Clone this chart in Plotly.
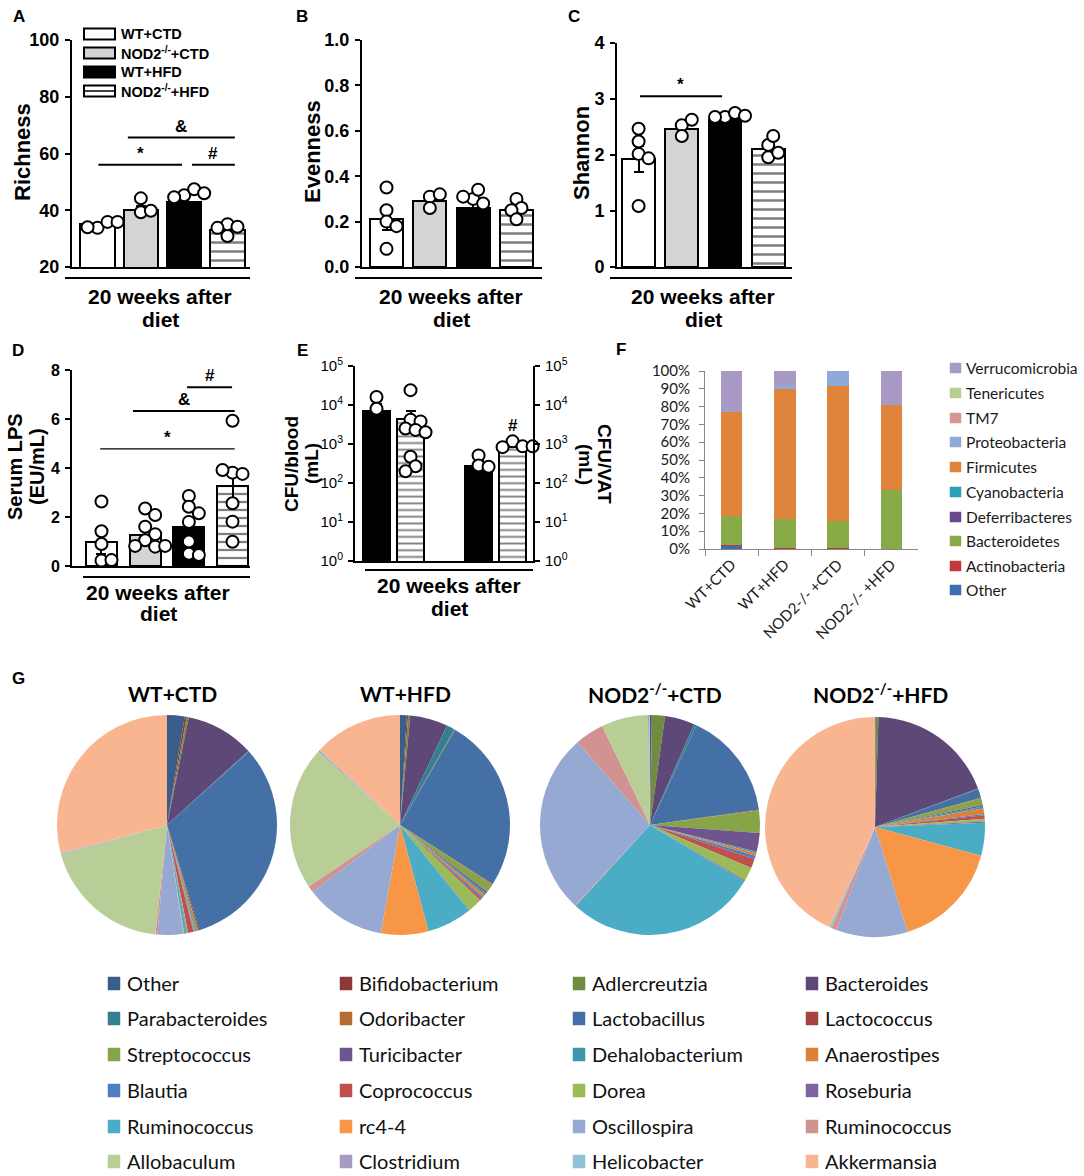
import numpy as np
import plotly.graph_objects as go

W, H = 1084, 1176
ARIAL = "Liberation Sans"
CAL = "Lato"

# ---------------- data ----------------
groups = ["WT+CTD", "NOD2-/-+CTD", "WT+HFD", "NOD2-/-+HFD"]
group_styles = ["white", "gray", "black", "stripe"]

richness_mean = [35.0, 40.0, 43.0, 33.0]
richness_sem = [0.6, 1.5, 0.7, 0.9]
richness_pts = [[33.8, 35.9, 34.0, 35.9], [39.3, 44.2, 39.8],
                [45.3, 47.4, 44.6, 46.0], [30.9, 35.1, 34.2, 33.8]]

evenness_mean = [0.21, 0.29, 0.26, 0.25]
evenness_sem = [0.045, 0.02, 0.025, 0.02]
evenness_pts = [[0.35, 0.25, 0.20, 0.18, 0.08], [0.31, 0.32, 0.26],
                [0.30, 0.34, 0.31, 0.28], [0.30, 0.26, 0.25, 0.21]]

shannon_mean = [1.93, 2.47, 2.63, 2.10]
shannon_sem = [0.23, 0.08, 0.03, 0.08]
shannon_pts = [[2.47, 2.24, 2.02, 1.94, 1.09], [2.53, 2.63, 2.34],
               [2.68, 2.75, 2.68, 2.70], [1.96, 2.18, 2.34, 2.04]]

lps_mean = [0.97, 1.27, 1.60, 3.25]
lps_sem = [0.48, 0.23, 0.30, 0.60]
lps_pts = [[2.63, 1.42, 0.90, 0.22, 0.24],
           [2.35, 2.08, 1.60, 1.30, 1.05, 0.79, 0.82, 0.82],
           [2.86, 2.42, 2.15, 1.80, 1.00, 0.50, 0.45],
           [5.93, 3.81, 3.76, 3.92, 2.56, 1.81, 0.99]]

cfu_groups = ["WT+HFD", "NOD2-/-+HFD"]
cfu_blood_mean = [7000, 4500]
cfu_blood_sem = [3700, 2700]
cfu_blood_pts = [[16000, 8000],
                 [24000, 4200, 3800, 2500, 2300, 2000, 470, 270, 200]]
cfu_vat_mean = [280, 840]
cfu_vat_sem = [110, 100]
cfu_vat_pts = [[510, 280, 260], [1170, 870, 830, 870]]

phyla = ["Other", "Actinobacteria", "Bacteroidetes", "Deferribacteres", "Cyanobacteria",
         "Firmicutes", "Proteobacteria", "TM7", "Tenericutes", "Verrucomicrobia"]
phyla_colors = ["#3d6db1", "#c0393b", "#88ab47", "#67488f", "#2f9fb8",
                "#e0843c", "#8faad8", "#d99594", "#b5d090", "#a89ac4"]
phyla_groups = ["WT+CTD", "WT+HFD", "NOD2-/- +CTD", "NOD2-/- +HFD"]
phyla_pct = {
    "Other":           [2.0, 0.3, 0.3, 0.0],
    "Actinobacteria":  [0.3, 0.5, 0.5, 0.2],
    "Bacteroidetes":   [16.5, 16.0, 15.0, 33.0],
    "Deferribacteres": [0.0, 0.0, 0.0, 0.0],
    "Cyanobacteria":   [0.0, 0.0, 0.0, 0.0],
    "Firmicutes":      [58.5, 73.0, 75.5, 47.8],
    "Proteobacteria":  [0.2, 2.6, 8.7, 0.0],
    "TM7":             [0.0, 0.0, 0.0, 0.0],
    "Tenericutes":     [0.0, 0.0, 0.0, 0.0],
    "Verrucomicrobia": [22.5, 7.6, 0.0, 19.0],
}

genera = ["Other", "Bifidobacterium", "Adlercreutzia", "Bacteroides",
          "Parabacteroides", "Odoribacter", "Lactobacillus", "Lactococcus",
          "Streptococcus", "Turicibacter", "Dehalobacterium", "Anaerostipes",
          "Blautia", "Coprococcus", "Dorea", "Roseburia",
          "Ruminococcus", "rc4-4", "Oscillospira", "Ruminococcus",
          "Allobaculum", "Clostridium", "Helicobacter", "Akkermansia"]
genera_colors = ["#3a5e8c", "#8c3836", "#718c3e", "#5d4878",
                 "#357f93", "#b56c2f", "#4470a5", "#a64340",
                 "#87a548", "#6f5590", "#3e97ad", "#dd8138",
                 "#4d7fc0", "#c0504d", "#9bbb59", "#8064a2",
                 "#4bacc6", "#f79646", "#95a9d2", "#d09392",
                 "#b9cd96", "#a89bc0", "#92c3d4", "#f8b58f"]
pie_titles = ["WT+CTD", "WT+HFD", "NOD2<sup>-/-</sup>+CTD", "NOD2<sup>-/-</sup>+HFD"]
pie_values = [
    [2.6, 0.3, 0.3, 10.2, 0.1, 0.0, 32.2, 0.2, 0.3, 0.1, 0.1, 0.1,
     0.1, 0.8, 0.1, 0.1, 0.4, 0.1, 3.8, 0.3, 19.2, 0.1, 0.1, 29.4],
    [1.0, 0.2, 0.3, 5.6, 1.2, 0.1, 25.9, 0.1, 1.3, 0.3, 0.3, 0.4,
     0.3, 0.3, 2.1, 0.1, 6.7, 7.0, 11.9, 1.0, 21.3, 0.2, 0.1, 13.1],
    [0.2, 0.1, 1.9, 4.4, 0.4, 0.0, 15.9, 0.1, 3.3, 2.8, 0.2, 0.4,
     0.5, 1.4, 2.0, 0.2, 28.4, 0.1, 26.8, 4.3, 6.9, 0.2, 0.1, 0.0],
    [0.1, 0.0, 0.4, 18.8, 0.1, 0.0, 1.3, 0.1, 1.0, 0.2, 0.3, 0.8,
     0.2, 0.5, 0.4, 0.2, 4.8, 16.0, 10.5, 0.8, 0.0, 0.0, 0.3, 43.2],
]

# significance bars: (x0, x1, y, label)   in data units of each panel
sig_A = [(0.02, 1.95, 56.0, "*"), (0.70, 3.17, 65.6, "&"), (2.18, 3.17, 56.0, "#")]
sig_C = [(0.03, 1.93, 3.05, "*")]
sig_D = [(1.96, 2.99, 7.30, "#"), (0.72, 3.05, 6.33, "&"), (-0.03, 3.05, 4.78, "*")]

# ---------------- helpers ----------------
def X(px):
    return px / W

def Y(py):
    return 1 - py / H

fig = go.Figure()
shapes = []
annotations = []

def ann(text, x, y, size, bold=True, family=ARIAL, angle=0, xanchor="center",
        color="black"):
    annotations.append(dict(text=text, x=X(x), y=Y(y), xref="paper", yref="paper",
                            showarrow=False, textangle=angle, xanchor=xanchor,
                            yanchor="middle",
                            font=dict(family=family, size=size, color=color,
                                      weight="bold" if bold else "normal")))

def hline_px(x0, x1, y, width=2, color="black"):
    shapes.append(dict(type="line", xref="paper", yref="paper", x0=X(x0), x1=X(x1),
                       y0=Y(y), y1=Y(y), line=dict(color=color, width=width)))

def swarm(vals, ypp, xpp, log=False, r=6.5):
    placed, offs = [], []
    for v in vals:
        yy = (np.log10(v) if log else v) * ypp
        xx = 0.0
        for k in [0, 1, -1, 2, -2, 3, -3, 4, -4]:
            xx = k * 5.0
            if all((xx - a) ** 2 + (yy - b) ** 2 >= (1.45 * r) ** 2 for a, b in placed):
                break
        placed.append((xx, yy))
        offs.append(xx / xpp)
    return offs

def add_bar(xpos, mean, sem, style, width, xa, ya, log=False, stripe=9):
    fill = {"white": "white", "gray": "#d4d4d4", "black": "black", "stripe": "white"}[style]
    marker = dict(color=fill, line=dict(color="black", width=2))
    if style == "stripe":
        marker["pattern"] = dict(shape="-", fgcolor="black", bgcolor="white",
                                 size=stripe, solidity=0.28)
    err = dict(type="data", array=[sem], color="black", thickness=2, width=5)
    if log:
        err.update(symmetric=False, arrayminus=[0])
    fig.add_trace(go.Bar(x=[xpos], y=[mean], width=width, marker=marker,
                         error_y=err, xaxis=xa, yaxis=ya, showlegend=False))

def add_pts(xpos, pts, xa, ya, ypp, xpp, log=False):
    offs = swarm(pts, ypp, xpp, log)
    fig.add_trace(go.Scatter(x=[xpos + o for o in offs], y=pts, mode="markers",
                             marker=dict(symbol="circle", size=12, color="white",
                                         line=dict(color="black", width=2)),
                             xaxis=xa, yaxis=ya, showlegend=False, cliponaxis=False))

def gp_yaxis(dom, rng, tickvals, size, ticktext=None, log=False, side="left",
             bold=True, **kw):
    d = dict(domain=dom, range=rng, showline=True, linecolor="black", linewidth=2,
             ticks="outside", ticklen=5, tickwidth=2, tickcolor="black",
             tickvals=tickvals, showgrid=False, zeroline=False, side=side,
             ticklabelstandoff=2, automargin=False, fixedrange=True,
             tickfont=dict(family=ARIAL, size=size, color="black",
                           weight="bold" if bold else "normal"))
    if ticktext is not None:
        d["ticktext"] = ticktext
    if log:
        d["type"] = "log"
    d.update(kw)
    return d

def gp_xaxis(dom, rng, anchor):
    return dict(domain=dom, range=rng, showline=True, linecolor="black", linewidth=2,
                ticks="", showticklabels=False, showgrid=False, zeroline=False,
                anchor=anchor, fixedrange=True, automargin=False)

layout = {}

# ---------------- panels A-D (GraphPad style) ----------------
panels = [
    ("A", 1, (72, 250), (40, 267), (-0.59, 3.52), (20, 100), [20, 40, 60, 80, 100],
     richness_mean, richness_sem, richness_pts, 0.79, 18),
    ("B", 2, (362, 542), (40, 267), (-0.566, 3.59), (0, 1.0), [0, 0.2, 0.4, 0.6, 0.8, 1.0],
     evenness_mean, evenness_sem, evenness_pts, 0.76, 18),
    ("C", 3, (617, 792), (43, 267), (-0.5, 3.55), (0, 4), [0, 1, 2, 3, 4],
     shannon_mean, shannon_sem, shannon_pts, 0.76, 18),
    ("D", 4, (72, 250), (370, 566), (-0.675, 3.4), (0, 8), [0, 2, 4, 6, 8],
     lps_mean, lps_sem, lps_pts, 0.71, 16),
]
for name, i, xp, yp, xr, yr, tv, mean, sem, pts, bw, ts in panels:
    xa, ya = f"x{i}", f"y{i}"
    xpp = (xp[1] - xp[0]) / (xr[1] - xr[0])
    ypp = (yp[1] - yp[0]) / (yr[1] - yr[0])
    ttext = [f"{v:.1f}" for v in tv] if name == "B" else [str(v) for v in tv]
    layout[f"xaxis{i}"] = gp_xaxis([X(xp[0]), X(xp[1])], list(xr), ya)
    layout[f"yaxis{i}"] = gp_yaxis([Y(yp[1]), Y(yp[0])], list(yr), tv, ts,
                                   ticktext=ttext, anchor=xa)
    for k in range(4):
        add_bar(k, mean[k], sem[k], group_styles[k], bw, xa, ya,
                stripe=9 if name != "D" else 8)
        add_pts(k, pts[k], xa, ya, ypp, xpp)

def sig(lines, i, widths=None):
    for j, (x0, x1, yv, lab) in enumerate(lines):
        w = 2 if widths is None else widths[j]
        shapes.append(dict(type="line", xref=f"x{i}", yref=f"y{i}", x0=x0, x1=x1,
                           y0=yv, y1=yv, line=dict(color="black", width=w)))
        annotations.append(dict(text=lab, x=(x0 + x1) / 2, y=yv, xref=f"x{i}",
                                yref=f"y{i}", showarrow=False, yanchor="bottom",
                                font=dict(family=ARIAL, size=17, color="black",
                                          weight="bold")))

sig(sig_A, 1)
sig(sig_C, 3)
sig(sig_D, 4, widths=[2, 2, 1.3])

# ---------------- panel E ----------------
E_x = (355, 533)
E_y = (366, 561)
E_xr = (-0.632, 4.6)
E_pos = [0, 1, 3, 4]
e_tv = [1, 10, 100, 1000, 10000, 100000]
e_tt = [f"10<sup>{k}</sup>" for k in range(6)]
layout["xaxis5"] = gp_xaxis([X(E_x[0]), X(E_x[1])], list(E_xr), "y5")
layout["yaxis5"] = gp_yaxis([Y(E_y[1]), Y(E_y[0])], [0, 5], e_tv, 15, ticktext=e_tt,
                            log=True, bold=False, anchor="x5")
layout["yaxis6"] = gp_yaxis([Y(E_y[1]), Y(E_y[0])], [0, 5], e_tv, 15, ticktext=e_tt,
                            log=True, bold=False, side="right", overlaying="y5",
                            anchor="x5")
e_xpp = (E_x[1] - E_x[0]) / (E_xr[1] - E_xr[0])
e_ypp = (E_y[1] - E_y[0]) / 5
for k in range(2):
    add_bar(E_pos[k], cfu_blood_mean[k], cfu_blood_sem[k], ["black", "stripe"][k],
            0.78, "x5", "y5", log=True, stripe=6.7)
    add_pts(E_pos[k], cfu_blood_pts[k], "x5", "y5", e_ypp, e_xpp, log=True)
for k in range(2):
    add_bar(E_pos[k + 2], cfu_vat_mean[k], cfu_vat_sem[k], ["black", "stripe"][k],
            0.78, "x5", "y6", log=True, stripe=6.7)
    add_pts(E_pos[k + 2], cfu_vat_pts[k], "x5", "y6", e_ypp, e_xpp, log=True)

# ---------------- panel F (stacked bars) ----------------
for ph, col in zip(phyla, phyla_colors):
    fig.add_trace(go.Bar(x=phyla_groups, y=phyla_pct[ph], name=ph, width=0.4,
                         marker=dict(color=col, line=dict(width=0)),
                         xaxis="x7", yaxis="y7", showlegend=False))
layout["xaxis7"] = dict(domain=[X(705), X(918)], range=[-0.5, 3.5], type="category",
                        showline=True, linecolor="#868686", linewidth=1,
                        ticks="outside", ticklen=6, tickcolor="#868686",
                        tickson="boundaries", tickangle=-45, anchor="y7",
                        showgrid=False, zeroline=False, automargin=False,
                        fixedrange=True,
                        tickfont=dict(family=CAL, size=15, color="#1a1a1a"))
layout["yaxis7"] = dict(domain=[Y(549), Y(371)], range=[0, 100], dtick=10,
                        ticksuffix="%", showline=True, linecolor="#868686",
                        linewidth=1, ticks="outside", ticklen=5,
                        tickcolor="#868686", anchor="x7", showgrid=False,
                        zeroline=False, ticklabelstandoff=6, automargin=False,
                        fixedrange=True,
                        tickfont=dict(family=CAL, size=15, color="#1a1a1a"))

f_rows = [368, 393, 418, 442, 467, 492, 517, 541, 566, 590]
for row, (ph, col) in zip(f_rows, list(zip(phyla, phyla_colors))[::-1]):
    shapes.append(dict(type="rect", xref="paper", yref="paper", x0=X(950), x1=X(961),
                       y0=Y(row + 5), y1=Y(row - 5), fillcolor=col,
                       line=dict(color=col, width=0.5)))
    ann(ph, 964, row, 15.5, bold=False, family=CAL, xanchor="left", color="#1a1a1a")

# ---------------- panel G (pies) ----------------
pie_centers = [(167, 825), (400, 825), (650, 825), (875, 827)]
R = 110
labels_id = [f"{i:02d} {g}" for i, g in enumerate(genera)]
for (cx, cy), vals, title in zip(pie_centers, pie_values, pie_titles):
    fig.add_trace(go.Pie(labels=labels_id, values=vals, sort=False,
                         direction="clockwise", rotation=0, textinfo="none",
                         marker=dict(colors=genera_colors, line=dict(width=0)),
                         domain=dict(x=[X(cx - R), X(cx + R)], y=[Y(cy + R), Y(cy - R)]),
                         showlegend=False, hovertext=genera, hoverinfo="text+percent",
                         automargin=False))
    ann(title, cx + 5, 693, 21, family=CAL)

g_cols = [108, 340, 573, 806]
g_rows = [983, 1018, 1054, 1090, 1126, 1161]
for idx, (g, col) in enumerate(zip(genera, genera_colors)):
    r, c = divmod(idx, 4)
    x0, yc = g_cols[c], g_rows[r]
    shapes.append(dict(type="rect", xref="paper", yref="paper", x0=X(x0), x1=X(x0 + 12),
                       y0=Y(yc + 7), y1=Y(yc - 6), fillcolor=col,
                       line=dict(color=col, width=0.5)))
    ann(g, x0 + 17, yc, 20, bold=False, family=CAL, xanchor="left", color="#111")

# ---------------- A legend ----------------
leg_rows = [34, 53, 72, 91]
leg_text = ["WT+CTD", "NOD2<sup>-/-</sup>+CTD", "WT+HFD", "NOD2<sup>-/-</sup>+HFD"]
for row, style, txt in zip(leg_rows, group_styles, leg_text):
    fillc = {"white": "white", "gray": "#d4d4d4", "black": "black", "stripe": "white"}[style]
    shapes.append(dict(type="rect", xref="paper", yref="paper", x0=X(84), x1=X(115),
                       y0=Y(row + 5.5), y1=Y(row - 5.5), fillcolor=fillc,
                       line=dict(color="black", width=2)))
    if style == "stripe":
        hline_px(84, 115, row, width=1.5)
    ann(txt, 119, row, 14.5, xanchor="left")

# ---------------- text / group lines ----------------
ann("A", 19, 16, 17)
ann("B", 302, 16, 17)
ann("C", 574, 16, 17)
ann("D", 18, 350, 17)
ann("E", 302, 350, 17)
ann("F", 621, 349, 17)
ann("G", 18, 678, 17)

ann("Richness", 22, 152, 22, angle=-90)
ann("Evenness", 312, 152, 22, angle=-90)
ann("Shannon", 582, 153, 22, angle=-90)
ann("Serum LPS", 15, 467, 20, angle=-90)
ann("(EU/mL)", 37, 467, 20, angle=-90)
ann("CFU/blood", 291, 464, 19, angle=-90)
ann("(mL)", 311, 464, 19, angle=-90)
ann("CFU/VAT", 605, 464, 19, angle=90)
ann("(mL)", 586, 464, 19, angle=90)
ann("#", 513, 425, 17)

for (x0, x1, y, cx) in [(65, 250, 278, 160), (355, 542, 278, 451), (610, 792, 278, 703)]:
    hline_px(x0, x1, y)
    ann("20 weeks after", cx, 296, 21)
    ann("diet", cx, 319, 21)
hline_px(83, 250, 577)
ann("20 weeks after", 158, 592, 21)
ann("diet", 158, 613, 21)
hline_px(365, 533, 570)
ann("20 weeks after", 449, 586, 21)
ann("diet", 449, 608, 21)

fig.update_layout(width=W, height=H, margin=dict(l=0, r=0, t=0, b=0, pad=0),
                  autosize=False,
                  paper_bgcolor="white", plot_bgcolor="white", barmode="stack",
                  showlegend=False, shapes=shapes, annotations=annotations, **layout)
fig.write_html("out.html", config={"displayModeBar": False},
               post_script="document.body.style.margin='0px';"
                           "document.body.style.padding='0px';"
                           "document.documentElement.style.overflow='hidden';")
